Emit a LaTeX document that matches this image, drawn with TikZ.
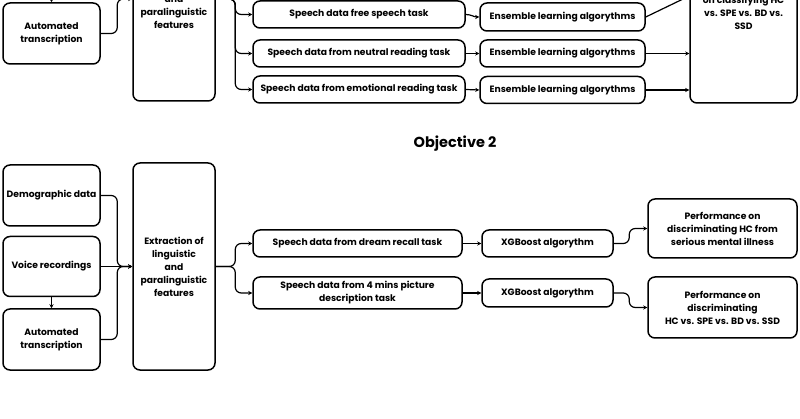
\documentclass[tikz,border=0pt]{standalone}
\usepackage{fontspec}
\setmainfont{Poppins}
\usetikzlibrary{arrows.meta}
\begin{document}
\begin{tikzpicture}[x=1pt,y=-1pt,
  box/.style={draw, line width=1.5pt, rounded corners=7pt, align=center, inner sep=0pt,
    font=\fontsize{9.2}{13}\selectfont\bfseries},
  ln/.style={line width=1.2pt, rounded corners=6pt},
  arr/.style={ln, -{Stealth[length=4pt,width=4pt]}}]
\useasboundingbox (0,0) rectangle (800,419);
\clip (0,0) rectangle (800,419);
% ---------- top section (partly cut) ----------
\node[box, minimum width=97pt, minimum height=61pt] (auto1) at (51.5,33.5) {Automated\\transcription};
\node[box, minimum width=82pt, minimum height=204pt] (ext1) at (174,-1) {Extraction of\\linguistic\\and\\paralinguistic\\features};
\coordinate (vtop) at (51.5,-12);
\draw[arr] (vtop) -- (auto1.north);
\draw[arr] (auto1.east) -| ([xshift=-15pt]ext1.west) -- (ext1.west);
\node[box, minimum width=212pt, minimum height=27pt] (tA) at (359,14.5) {Speech data free speech task};
\node[box, minimum width=212pt, minimum height=27pt] (tB) at (359,53.5) {Speech data from neutral reading task};
\node[box, minimum width=212pt, minimum height=27pt] (tC) at (359,89.5) {Speech data from emotional reading task};
\node[box, minimum width=165pt, minimum height=28pt] (eA) at (562.5,17) {Ensemble learning algorythms};
\node[box, minimum width=165pt, minimum height=27pt] (eB) at (562.5,53.5) {Ensemble learning algorythms};
\node[box, minimum width=165pt, minimum height=27pt] (eC) at (562.5,90) {Ensemble learning algorythms};
\node[box, minimum width=107pt, minimum height=193pt] (rb) at (743.5,6.5) {Performance\\on classifying HC\\vs. SPE vs. BD vs.\\SSD};
\draw[arr] (ext1.east) -| ([xshift=-17pt]tA.west) -- (tA.west);
\draw[arr] (ext1.east) -| ([xshift=-17pt]tB.west) -- (tB.west);
\draw[arr] (ext1.east) -| ([xshift=-17pt]tC.west) -- (tC.west);
\draw[arr] (tA.east) to[out=0,in=180] (eA.west);
\draw[arr] (tB.east) -- (eB.west);
\draw[arr] (tC.east) -- (eC.west);
\draw[arr] (eA.east) -- (rb.west |- 0,-4);
\draw[arr] (eB.east) -- (rb.west |- eB.east);
\draw[arr] (eC.east) -- (rb.west |- eC.east);
% ---------- Objective 2 ----------
\node[font=\fontsize{14.5}{16}\selectfont\bfseries] (obj2) at (455,144) {Objective 2};
\node[box, minimum width=97pt, minimum height=61pt] (demog) at (51.5,195.5) {Demographic data};
\node[box, minimum width=97pt, minimum height=60pt] (voice) at (51.5,266.5) {Voice recordings};
\node[box, minimum width=97pt, minimum height=61pt] (auto2) at (51.5,339.5) {Automated\\transcription};
\node[box, minimum width=82pt, minimum height=207pt] (ext2) at (174,266.5) {Extraction of\\linguistic\\and\\paralinguistic\\features};
\draw[arr] (voice.south) -- (auto2.north);
\draw[arr] (demog.east) -| ([xshift=-15pt]ext2.west) -- (ext2.west);
\draw[arr] (auto2.east) -| ([xshift=-15pt]ext2.west) -- (ext2.west);
\draw[arr] (voice.east) -- (ext2.west);
\node[box, minimum width=209pt, minimum height=27pt] (t1) at (357.5,243.5) {Speech data from dream recall task};
\node[box, minimum width=209pt, minimum height=32pt] (t2) at (357.5,293) {Speech data from 4 mins picture\\description task};
\node[box, minimum width=131pt, minimum height=27pt] (x1) at (547.5,243.5) {XGBoost algorythm};
\node[box, minimum width=131pt, minimum height=28pt] (x2) at (547.5,293) {XGBoost algorythm};
\node[box, minimum width=149pt, minimum height=59pt] (p1) at (722.5,228.5) {Performance on\\discriminating HC from\\serious mental illness};
\node[box, minimum width=149pt, minimum height=61pt] (p2) at (722.5,307.5) {Performance on\\discriminating\\HC vs. SPE vs. BD vs. SSD};
\draw[arr] (ext2.east) -| ([xshift=-17pt]t1.west) -- (t1.west);
\draw[arr] (ext2.east) -| ([xshift=-17pt]t2.west) -- (t2.west);
\draw[arr] (t1.east) -- (x1.west);
\draw[arr] (t2.east) -- (x2.west);
\draw[arr] (x1.east) -| ([xshift=-18pt]p1.west) -- (p1.west);
\draw[arr] (x2.east) -| ([xshift=-18pt]p2.west) -- (p2.west);
\end{tikzpicture}
\end{document}
